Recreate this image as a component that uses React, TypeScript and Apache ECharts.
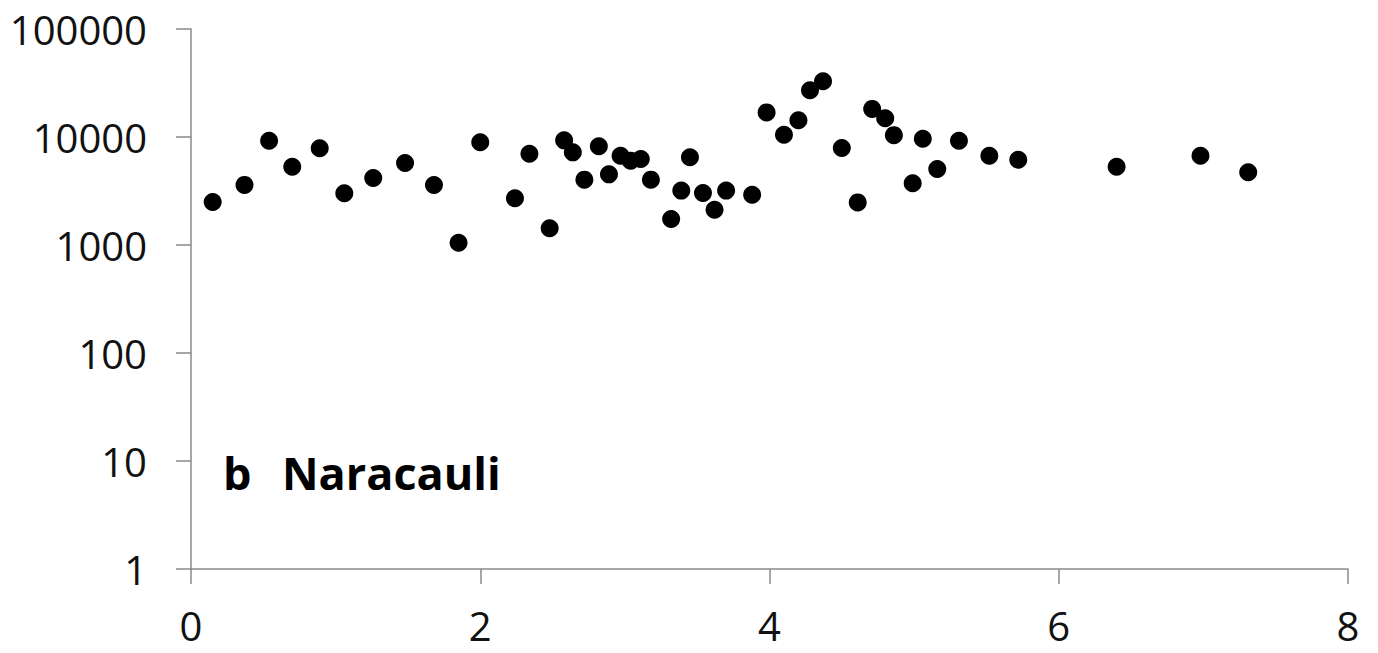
import React, { useEffect, useRef } from "react";
import * as echarts from "echarts";

const xValues = [
  0.15, 0.37, 0.54, 0.70, 0.89, 1.06, 1.26, 1.48, 1.68, 1.85,
  2.00, 2.24, 2.34, 2.48, 2.58, 2.64, 2.72, 2.82, 2.89, 2.97,
  3.04, 3.11, 3.18, 3.32, 3.39, 3.45, 3.54, 3.62, 3.70, 3.88,
  3.98, 4.10, 4.20, 4.28, 4.37, 4.50, 4.61, 4.71, 4.80, 4.86,
  4.99, 5.06, 5.16, 5.31, 5.52, 5.72, 6.40, 6.98, 7.31,
];
const yValues = [
  2500, 3600, 9240, 5310, 7860, 3010, 4170, 5740, 3590, 1050,
  8930, 2710, 7000, 1430, 9310, 7210, 4030, 8200, 4510, 6710,
  6040, 6260, 4030, 1740, 3190, 6490, 3030, 2120, 3190, 2920,
  16900, 10500, 14300, 27100, 32800, 7910, 2480, 18200, 14900, 10400,
  3730, 9650, 5050, 9240, 6710, 6160, 5310, 6710, 4710,
];
const yTickValues = [1, 10, 100, 1000, 10000, 100000];
const yTickLabels = ["1", "10", "100", "1000", "10000", "100000"];
const xTickLabels = ["0", "2", "4", "6", "8"];
const panelLetter = "b";
const siteName = "Naracauli";

export default function App() {
  const ref = useRef<HTMLDivElement>(null);
  useEffect(() => {
    document.body.style.margin = "0";
    const chart = echarts.init(ref.current!, undefined, { renderer: "svg" });
    const axisColor = "#8a8a8a";
    const labelFont = { fontFamily: "Open Sans", fontSize: 40, color: "#111" };
    chart.setOption({
      animation: false,
      backgroundColor: "#ffffff",
      grid: { left: 191, right: 30, top: 29, bottom: 84 },
      xAxis: {
        type: "value",
        min: 0,
        max: 8,
        interval: 2,
        splitLine: { show: false },
        axisLine: { show: true, onZero: false, lineStyle: { color: axisColor, width: 1.5 } },
        axisTick: { show: true, inside: false, length: 15, lineStyle: { color: axisColor, width: 1.5 } },
        axisLabel: {
          ...labelFont,
          lineHeight: 30,
          margin: 41,
          formatter: (v: number) => xTickLabels[Math.round(v / 2)] ?? String(v),
        },
      },
      yAxis: {
        type: "log",
        logBase: 10,
        min: 1,
        max: 100000,
        splitLine: { show: false },
        axisLine: { show: true, lineStyle: { color: axisColor, width: 1.5 } },
        axisTick: { show: true, inside: false, length: 15, lineStyle: { color: axisColor, width: 1.5 } },
        axisLabel: {
          ...labelFont,
          lineHeight: 40,
          margin: 44,
          formatter: (v: number) => {
            const i = yTickValues.findIndex((t) => Math.abs(t - v) / t < 1e-6);
            return i >= 0 ? yTickLabels[i] : String(v);
          },
        },
      },
      graphic: [
        {
          type: "text",
          left: 223,
          top: 450,
          style: { text: panelLetter, font: "bold 45px 'Open Sans'", fill: "#000" },
        },
        {
          type: "text",
          left: 282,
          top: 450,
          style: { text: siteName, font: "bold 45px 'Open Sans'", fill: "#000" },
        },
      ],
      series: [
        {
          type: "scatter",
          symbol: "circle",
          symbolSize: 18,
          itemStyle: { color: "#000000", opacity: 1 },
          data: xValues.map((x, i) => [x, yValues[i]]),
        },
      ],
    });
    return () => chart.dispose();
  }, []);
  return <div ref={ref} style={{ width: 1378, height: 653 }} />;
}
